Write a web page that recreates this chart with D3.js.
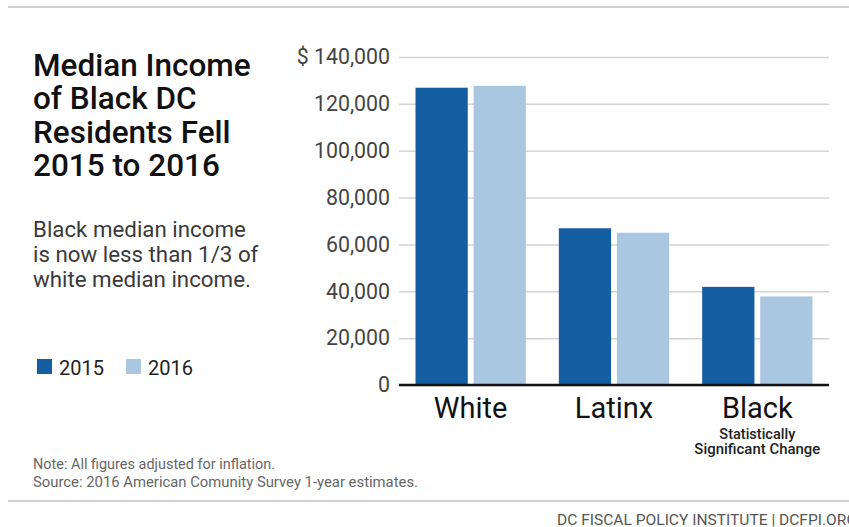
<!DOCTYPE html>
<html>
<head>
<meta charset="utf-8">
<script src="https://cdn.jsdelivr.net/npm/d3@7"></script>
<style>
  body { margin: 0; background: #fff; }
  svg { display: block; font-family: Roboto, "Noto Sans", sans-serif; }
</style>
</head>
<body>
<script>
const categories = ["White", "Latinx", "Black"];
const years = ["2015", "2016"];
const income2015 = [126900, 66900, 41900];
const income2016 = [127700, 65000, 37800];
const yTicks = [0, 20000, 40000, 60000, 80000, 100000, 120000, 140000];
const titleLines = ["Median Income", "of Black DC", "Residents Fell", "2015 to 2016"];
const subtitleLines = ["Black median income", "is now less than 1/3 of", "white median income."];
const colors = ["#155ea1", "#a9c7e1"];

const width = 849;
const height = 527;
const plot = { left: 399, right: 829, top: 57, bottom: 385 };

const data = categories.map((c, i) => ({
  category: c,
  values: [income2015[i], income2016[i]],
}));

const svg = d3
  .select("body")
  .append("svg")
  .attr("width", width)
  .attr("height", height);

// frame rules
svg.append("line")
  .attr("x1", 8).attr("x2", width).attr("y1", 7).attr("y2", 7)
  .attr("stroke", "#d2d2d2").attr("stroke-width", 2);
svg.append("line")
  .attr("x1", 8).attr("x2", width).attr("y1", 501).attr("y2", 501)
  .attr("stroke", "#d2d2d2").attr("stroke-width", 2);

// title + subtitle
svg.append("g")
  .selectAll("text")
  .data(titleLines)
  .enter()
  .append("text")
  .attr("x", 33)
  .attr("y", (d, i) => 76 + i * 33.3)
  .attr("font-size", 31.5)
  .attr("font-weight", 500)
  .attr("fill", "#111")
  .text((d) => d);

svg.append("g")
  .selectAll("text")
  .data(subtitleLines)
  .enter()
  .append("text")
  .attr("x", 33)
  .attr("y", (d, i) => 237 + i * 25)
  .attr("font-size", 22.3)
  .attr("fill", "#3a3a3a")
  .text((d) => d);

// scales
const x0 = d3.scaleBand().domain(categories).range([plot.left, plot.right]);
const x1 = d3
  .scaleBand()
  .domain(years)
  .range([16.5, x0.bandwidth() - 16.5])
  .paddingInner(0.1);
const yScale = d3
  .scaleLinear()
  .domain([0, 140000])
  .range([plot.bottom, plot.top]);

// y axis with gridlines
const yAxis = d3
  .axisLeft(yScale)
  .tickValues(yTicks)
  .tickSize(-(plot.right - plot.left))
  .tickPadding(9)
  .tickFormat((d) => (d === 140000 ? "$ " : "") + d3.format(",")(d));

const yG = svg
  .append("g")
  .attr("transform", `translate(${plot.left},0)`)
  .call(yAxis);
yG.select(".domain").remove();
yG.selectAll(".tick line").attr("stroke", "#d4d4d4").attr("stroke-width", 1.5);
yG.selectAll(".tick text")
  .attr("font-size", 21.3)
  .attr("fill", "#444")
  .attr("font-family", "Roboto, sans-serif");

// bars
const groups = svg
  .append("g")
  .selectAll("g")
  .data(data)
  .enter()
  .append("g")
  .attr("transform", (d) => `translate(${x0(d.category)},0)`);

groups
  .selectAll("rect")
  .data((d) => d.values.map((v, i) => ({ year: years[i], value: v, i })))
  .enter()
  .append("rect")
  .attr("x", (d) => x1(d.year))
  .attr("width", x1.bandwidth())
  .attr("y", (d) => yScale(d.value))
  .attr("height", (d) => plot.bottom - yScale(d.value))
  .attr("fill", (d) => colors[d.i]);

// baseline
svg.append("line")
  .attr("x1", plot.left).attr("x2", plot.right)
  .attr("y1", yScale(0)).attr("y2", yScale(0))
  .attr("stroke", "#111").attr("stroke-width", 2.5);

// category labels
svg.append("g")
  .selectAll("text")
  .data(categories)
  .enter()
  .append("text")
  .attr("x", (d) => x0(d) + x0.bandwidth() / 2)
  .attr("y", 418)
  .attr("text-anchor", "middle")
  .attr("font-size", 29)
  .attr("fill", "#111")
  .text((d) => d);

const noteLines = [
  { text: "Statistically", y: 439, len: 76 },
  { text: "Significant Change", y: 454, len: 126 },
];
svg.append("g")
  .selectAll("text")
  .data(noteLines)
  .enter()
  .append("text")
  .attr("x", x0("Black") + x0.bandwidth() / 2)
  .attr("y", (d) => d.y)
  .attr("text-anchor", "middle")
  .attr("font-size", 14)
  .attr("font-weight", 500)
  .attr("fill", "#222")
  .attr("textLength", (d) => d.len)
  .attr("lengthAdjust", "spacingAndGlyphs")
  .text((d) => d.text);

// legend
const legend = svg
  .append("g")
  .selectAll("g")
  .data(years)
  .enter()
  .append("g")
  .attr("transform", (d, i) => `translate(${37 + i * 89},359)`);
legend.append("rect")
  .attr("width", 15).attr("height", 15)
  .attr("fill", (d, i) => colors[i]);
legend.append("text")
  .attr("x", 22).attr("y", 15.5)
  .attr("font-size", 20)
  .attr("fill", "#222")
  .text((d) => d);

// footnotes
const footnotes = [
  { text: "Note: All figures adjusted for inflation.", y: 469, len: 242 },
  { text: "Source: 2016 American Comunity Survey 1-year estimates.", y: 487, len: 385 },
];
svg.append("g")
  .selectAll("text")
  .data(footnotes)
  .enter()
  .append("text")
  .attr("x", 33)
  .attr("y", (d) => d.y)
  .attr("font-size", 14)
  .attr("fill", "#666")
  .attr("textLength", (d) => d.len)
  .attr("lengthAdjust", "spacingAndGlyphs")
  .text((d) => d.text);

// credit line runs off the right edge, as in the original
svg.append("text")
  .attr("x", 557)
  .attr("y", 525)
  .attr("font-size", 15)
  .attr("fill", "#555")
  .attr("textLength", 300)
  .attr("lengthAdjust", "spacingAndGlyphs")
  .text("DC FISCAL POLICY INSTITUTE | DCFPI.ORG");
</script>
</body>
</html>
